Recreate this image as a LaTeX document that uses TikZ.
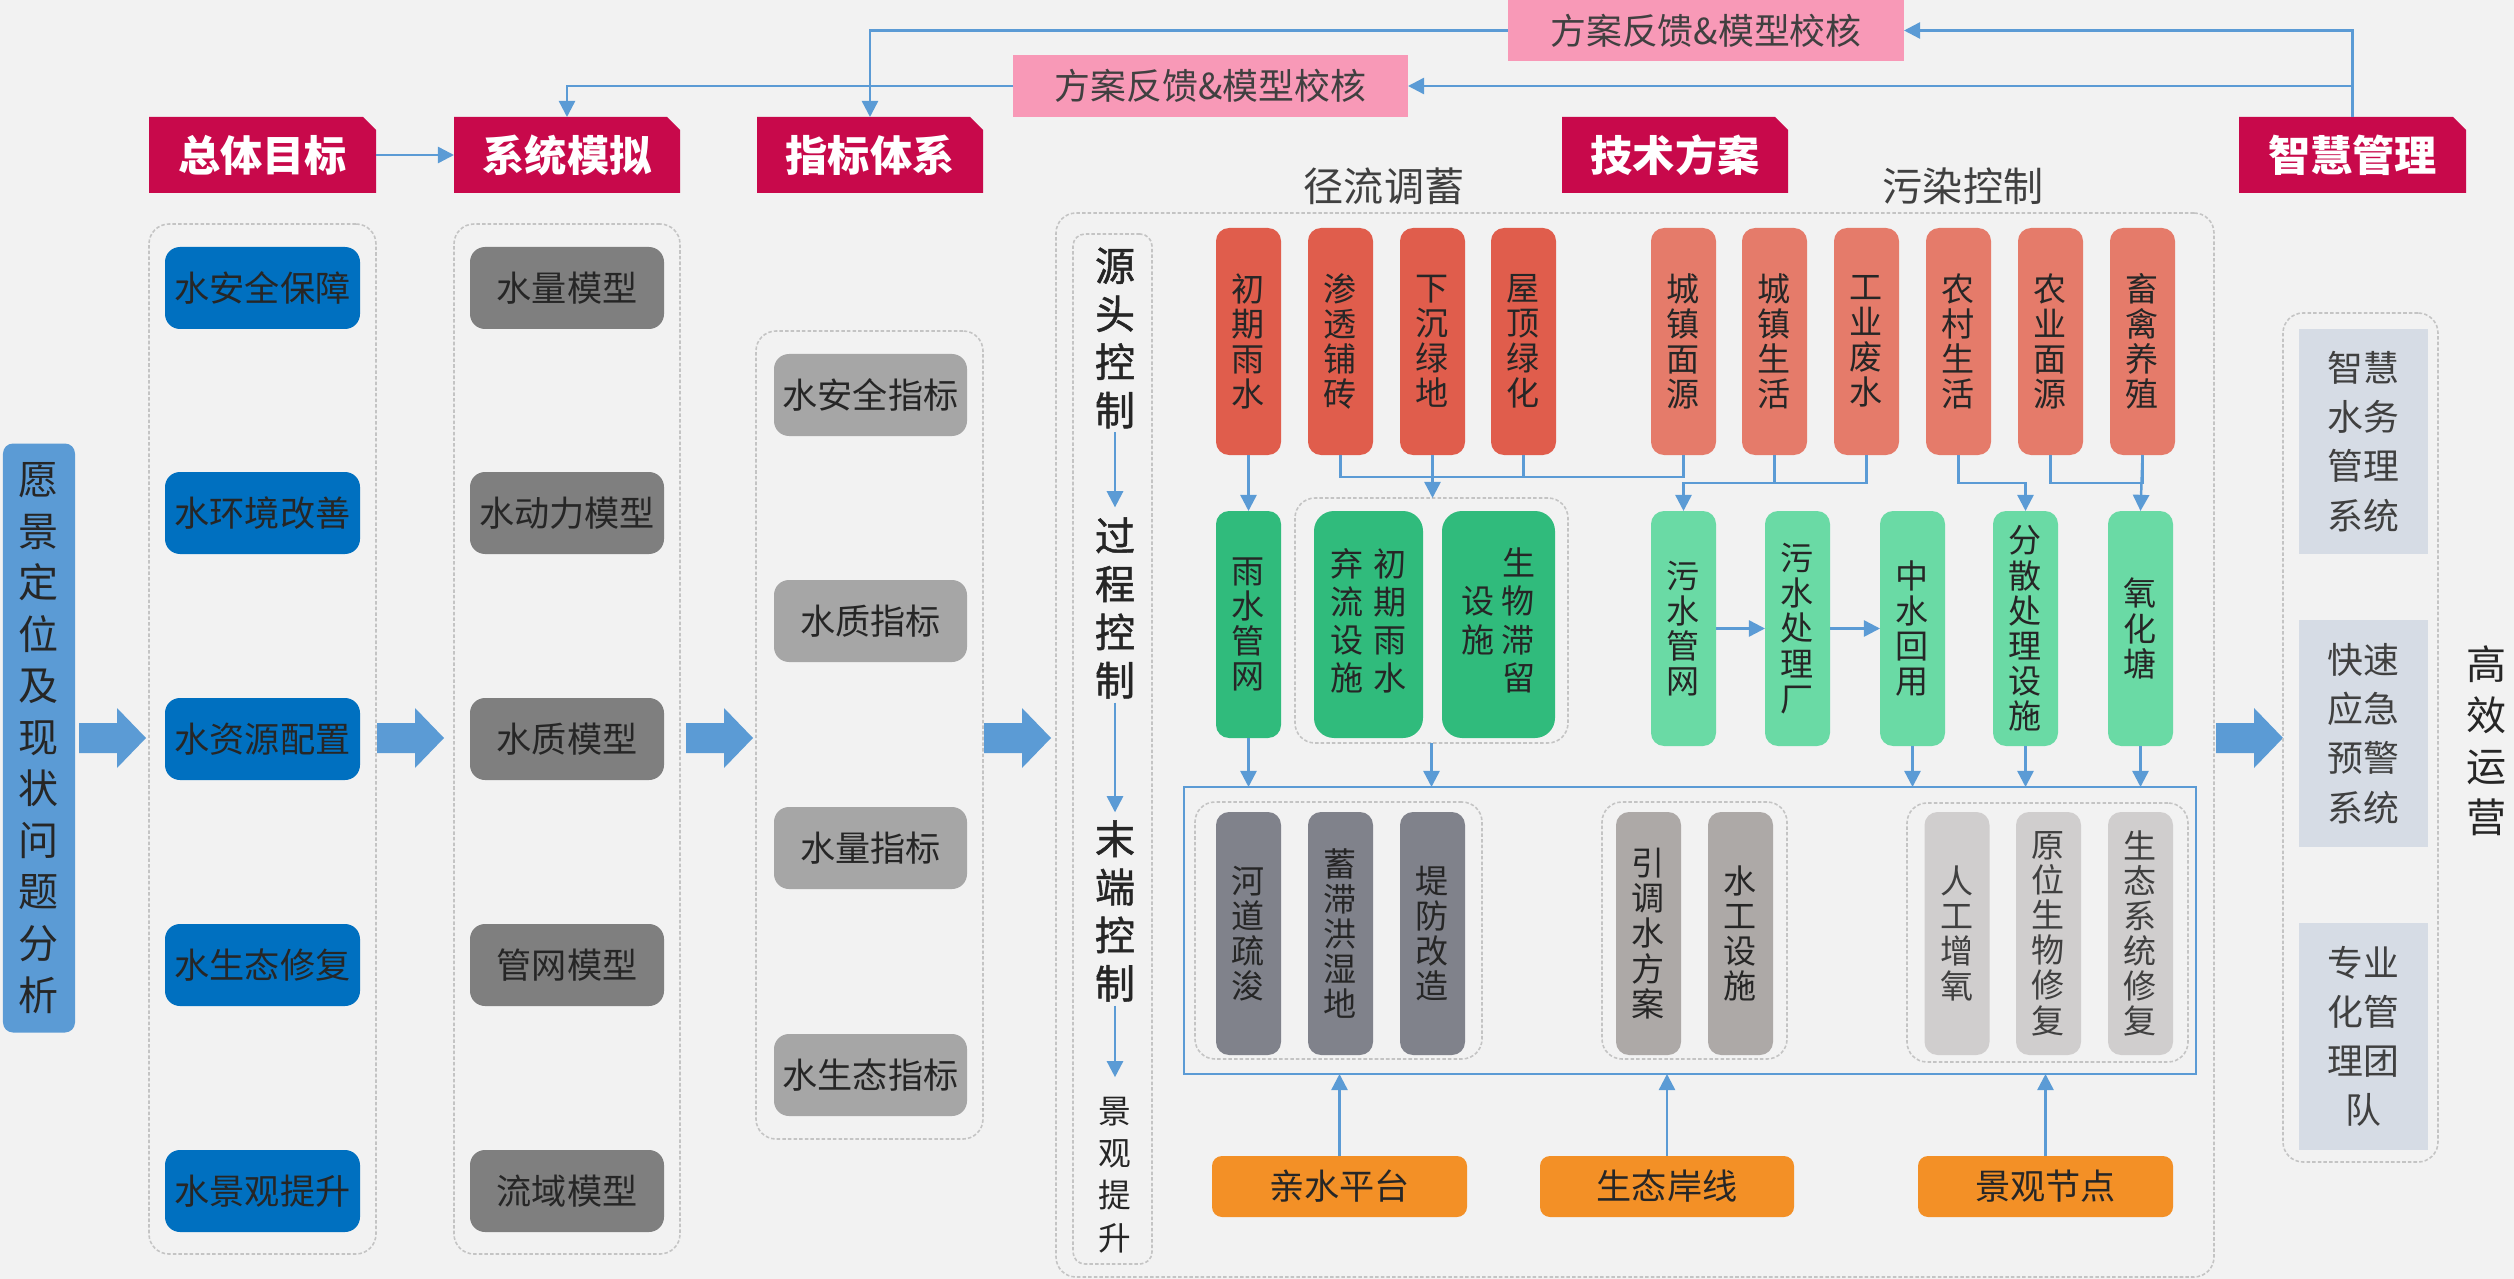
\documentclass[tikz,border=0pt]{standalone}
\usepackage{fontspec}
\setmainfont{Noto Sans CJK SC}
\newfontfamily\zzmed[FakeBold=1.2]{Noto Sans CJK SC}
\usetikzlibrary{arrows.meta}
\definecolor{bgc}{HTML}{F2F2F2}
\definecolor{crim}{HTML}{C8094B}
\definecolor{pinkfb}{HTML}{F899B7}
\definecolor{blueA}{HTML}{0070C0}
\definecolor{grayM}{HTML}{7F7F7F}
\definecolor{grayI}{HTML}{A6A6A6}
\definecolor{lblue}{HTML}{5B9BD5}
\definecolor{redA}{HTML}{E05D4C}
\definecolor{redB}{HTML}{E57B6A}
\definecolor{grnA}{HTML}{30BB7C}
\definecolor{grnB}{HTML}{6ADAA5}
\definecolor{gyA}{HTML}{80828B}
\definecolor{gyB}{HTML}{ADA9A7}
\definecolor{gyC}{HTML}{D0CECE}
\definecolor{orng}{HTML}{F39026}
\definecolor{rbox}{HTML}{D6DCE5}
\definecolor{txt}{HTML}{262626}
\definecolor{txtl}{HTML}{404040}
\definecolor{grpc}{HTML}{C4C4C4}

\newcommand\zzhdr{\fontsize{12pt}{14pt}\selectfont\bfseries}
\newcommand\zzfb{\fontsize{10.2pt}{12pt}\selectfont}
\newcommand\zzitem{\fontsize{10pt}{12pt}\selectfont}
\newcommand\zzleft{\fontsize{11.4pt}{14.65pt}\selectfont}
\newcommand\zzlab{\fontsize{11.4pt}{13pt}\selectfont}
\newcommand\zzctl{\zzmed\fontsize{11.4pt}{13.7pt}\selectfont}
\newcommand\zzjg{\fontsize{9.3pt}{12pt}\selectfont}
\newcommand\zztall{\fontsize{9.4pt}{10pt}\selectfont}
\newcommand\zzor{\fontsize{10pt}{12pt}\selectfont}
\newcommand\zzrb{\fontsize{10.2pt}{14pt}\selectfont}
\newcommand\zzgx{\fontsize{11.4pt}{14.5pt}\selectfont}

\newcommand\mkhdr[4]{%
  \fill[crim] (#2,117) -- ({#3-13},117) -- (#3,130) -- (#3,193) -- (#2,193) -- cycle;
  \node[box, text=white, font=\zzhdr, sz={#3-#2}{76}] (#1) at ({(#2+#3)/2},155) {#4};}
\newcommand\blkarr[2]{%
  \fill[lblue] (#1,#2) ++(0,-15) -- ++(38,0) -- ++(0,-15) -- ++(29,30) -- ++(-29,30) -- ++(0,-15) -- ++(-38,0) -- cycle;}

\begin{document}
\begin{tikzpicture}[x=0.01cm, y=-0.01cm,
  sz/.style 2 args={minimum width=(#1)*0.01cm, minimum height=(#2)*0.01cm},
  box/.style={inner sep=0pt, outer sep=0pt, text=txt},
  item/.style={box, rounded corners=0.15cm, font=\zzitem, sz={195}{82}},
  tall/.style={box, rounded corners=0.13cm, font=\zztall, align=center},
  grp/.style={draw=grpc, dash pattern=on 1pt off 0.6pt, line width=0.45pt, rounded corners=0.2cm, inner sep=0pt, outer sep=0pt},
  ln/.style={draw=lblue, line width=0.7pt},
  arr/.style={ln, -{Triangle[width=4.6pt,length=4.6pt]}},
  orb/.style={box, fill=orng, rounded corners=0.1cm, font=\zzor, sz={255}{61}},
  rbx/.style={box, fill=rbox, text=txtl, font=\zzrb, align=center, sz={129}{226}}
]
\useasboundingbox (0,0) rectangle (2514,1279);
\fill[bgc] (0,0) rectangle (2514,1279);

% ---------- feedback boxes ----------
\node[box, fill=pinkfb, sz={396}{61}, font=\zzfb, text=txtl] (fbA) at (1706,30.5) {方案反馈\&模型校核};
\node[box, fill=pinkfb, sz={395}{62}, font=\zzfb, text=txtl] (fbB) at (1210.5,86) {方案反馈\&模型校核};

% ---------- headers ----------
\mkhdr{ztmb}{149}{376}{总体目标}
\mkhdr{xtmn}{454}{680}{系统模拟}
\mkhdr{zbtx}{757}{983}{指标体系}
\mkhdr{jsfa}{1562}{1788}{技术方案}
\mkhdr{zhgl}{2239}{2466}{智慧管理}

\draw[arr] (ztmb.east) -- (xtmn.west);
\draw[arr] (zhgl.north) |- (fbA.east);
\draw[arr] (zhgl.north) |- (fbB.east);
\draw[arr] (fbA.west) -| (zbtx.north);
\draw[arr] (fbB.west) -| (xtmn.north);

% ---------- left box ----------
\node[box, fill=lblue, rounded corners=0.1cm, sz={72}{589}, align=center, font=\zzleft] (yjdw) at (39,738)
  {愿\\景\\定\\位\\及\\现\\状\\问\\题\\分\\析};

% ---------- column 1 ----------
\node[grp, sz={227}{1030}] (c1) at (262.5,739) {};
\node[item, fill=blueA] (a1) at (262.5,288) {水安全保障};
\node[item, fill=blueA] (a2) at (262.5,513) {水环境改善};
\node[item, fill=blueA] (a3) at (262.5,739) {水资源配置};
\node[item, fill=blueA] (a4) at (262.5,965) {水生态修复};
\node[item, fill=blueA] (a5) at (262.5,1191) {水景观提升};

% ---------- column 2 ----------
\node[grp, sz={226}{1030}] (c2) at (567,739) {};
\node[item, fill=grayM, sz={194}{82}] (m1) at (567,288) {水量模型};
\node[item, fill=grayM, sz={194}{82}] (m2) at (567,513) {水动力模型};
\node[item, fill=grayM, sz={194}{82}] (m3) at (567,739) {水质模型};
\node[item, fill=grayM, sz={194}{82}] (m4) at (567,965) {管网模型};
\node[item, fill=grayM, sz={194}{82}] (m5) at (567,1191) {流域模型};

% ---------- column 3 ----------
\node[grp, sz={227}{808}] (c3) at (869.5,735) {};
\node[item, fill=grayI, sz={193}{82}] (i1) at (870.5,395) {水安全指标};
\node[item, fill=grayI, sz={193}{82}] (i2) at (870.5,621) {水质指标};
\node[item, fill=grayI, sz={193}{82}] (i3) at (870.5,848) {水量指标};
\node[item, fill=grayI, sz={193}{82}] (i4) at (870.5,1075) {水生态指标};

% ---------- block arrows ----------
\blkarr{79}{738}
\blkarr{377}{738}
\blkarr{686}{738}
\blkarr{984}{738}
\blkarr{2216}{738}

% ---------- technical container ----------
\node[grp, sz={1158}{1064}] (tc) at (1635,745) {};
\node[box, font=\zzlab, text=txtl] (jllab) at (1384,186) {径流调蓄};
\node[box, font=\zzlab, text=txtl] (wrlab) at (1963,186) {污染控制};

% control column
\node[grp, sz={79}{1030}, rounded corners=0.12cm] (kc) at (1112.5,749) {};
\node[box, font=\zzctl, align=center] (k1) at (1115,338) {源\\头\\控\\制};
\node[box, font=\zzctl, align=center] (k2) at (1115,608) {过\\程\\控\\制};
\node[box, font=\zzctl, align=center] (k3) at (1115,911) {末\\端\\控\\制};
\node[box, font=\zzjg, align=center] (k4) at (1115,1175) {景\\观\\提\\升};
\draw[arr, shorten <=0.04cm, shorten >=0.1cm] (k1.south) -- (k2.north);
\draw[arr, shorten <=0.04cm, shorten >=0.08cm] (k2.south) -- (k3.north);
\draw[arr, shorten <=0.04cm, shorten >=0.2cm] (k3.south) -- (k4.north);

% runoff row
\node[tall, fill=redA, sz={65}{227}] (r1) at (1248.5,341.5) {初\\期\\雨\\水};
\node[tall, fill=redA, sz={65}{227}] (r2) at (1340.5,341.5) {渗\\透\\铺\\砖};
\node[tall, fill=redA, sz={65}{227}] (r3) at (1432.5,341.5) {下\\沉\\绿\\地};
\node[tall, fill=redA, sz={65}{227}] (r4) at (1523.5,341.5) {屋\\顶\\绿\\化};
% pollution row
\node[tall, fill=redB, sz={65}{227}] (p1) at (1683.5,341.5) {城\\镇\\面\\源};
\node[tall, fill=redB, sz={65}{227}] (p2) at (1774.5,341.5) {城\\镇\\生\\活};
\node[tall, fill=redB, sz={65}{227}] (p3) at (1866.5,341.5) {工\\业\\废\\水};
\node[tall, fill=redB, sz={65}{227}] (p4) at (1958.5,341.5) {农\\村\\生\\活};
\node[tall, fill=redB, sz={65}{227}] (p5) at (2050.5,341.5) {农\\业\\面\\源};
\node[tall, fill=redB, sz={65}{227}] (p6) at (2142.5,341.5) {畜\\禽\\养\\殖};

% green row
\node[tall, fill=grnA, sz={65}{227}] (g1) at (1248.5,624.5) {雨\\水\\管\\网};
\node[grp, sz={273}{245}] (gg) at (1431.5,620.5) {};
\node[tall, fill=grnA, sz={109}{227}, rounded corners=0.2cm] (g2) at (1368.5,624.5)
  {\begin{tabular}{@{}c@{\hspace{0.09cm}}c@{}}弃&初\\流&期\\设&雨\\施&水\end{tabular}};
\node[tall, fill=grnA, sz={113}{227}, rounded corners=0.2cm] (g3) at (1498.5,624.5)
  {\begin{tabular}{@{}c@{\hspace{0.07cm}}c@{}}&生\\设&物\\施&滞\\&留\end{tabular}};

\node[tall, fill=grnB, sz={65}{235}] (l1) at (1683.5,628.5) {污\\水\\管\\网};
\node[tall, fill=grnB, sz={65}{235}] (l2) at (1797.5,628.5) {污\\水\\处\\理\\厂};
\node[tall, fill=grnB, sz={65}{235}] (l3) at (1912.5,628.5) {中\\水\\回\\用};
\node[tall, fill=grnB, sz={65}{235}] (l4) at (2025.5,628.5) {分\\散\\处\\理\\设\\施};
\node[tall, fill=grnB, sz={65}{235}] (l5) at (2140.5,628.5) {氧\\化\\塘};

% connectors red -> green
\draw[arr] (r1.south) -- (g1.north);
\draw[ln] (r2.south) -- ++(0,22) -| (p1.south);
\draw[ln] (r4.south) -- ++(0,22);
\draw[arr] (r3.south) -- (r3.south |- gg.north);
\draw[ln] (p2.south) -- ++(0,28);
\draw[arr] (p3.south) -- ++(0,28) -| (l1.north);
\draw[arr] (p4.south) -- ++(0,28) -| (l4.north);
\draw[ln] (p5.south) -- ++(0,28) -| (p6.south);
\draw[arr] (p6.south) -- (l5.north);
\draw[arr] (l1.east) -- (l2.west);
\draw[arr] (l2.east) -- (l3.west);

% bottom container
\node[draw=lblue, line width=0.5pt, inner sep=0pt, outer sep=0pt, sz={1012}{287}] (bc) at (1690,930.5) {};
\node[grp, sz={287}{257}] (G1) at (1338.5,930.5) {};
\node[grp, sz={185}{257}] (G2) at (1694.5,930.5) {};
\node[grp, sz={281}{259}] (G3) at (2047.5,932.5) {};
\node[tall, fill=gyA, sz={65}{243}] (b1) at (1248.5,933.5) {河\\道\\疏\\浚};
\node[tall, fill=gyA, sz={65}{243}] (b2) at (1340.5,933.5) {蓄\\滞\\洪\\湿\\地};
\node[tall, fill=gyA, sz={65}{243}] (b3) at (1432.5,933.5) {堤\\防\\改\\造};
\node[tall, fill=gyB, sz={65}{243}] (b4) at (1648.5,933.5) {引\\调\\水\\方\\案};
\node[tall, fill=gyB, sz={65}{243}] (b5) at (1740.5,933.5) {水\\工\\设\\施};
\node[tall, fill=gyC, text=txtl, sz={65}{243}] (b6) at (1957,933.5) {人\\工\\增\\氧};
\node[tall, fill=gyC, text=txtl, sz={65}{243}] (b7) at (2048.5,933.5) {原\\位\\生\\物\\修\\复};
\node[tall, fill=gyC, text=txtl, sz={65}{243}] (b8) at (2140.5,933.5) {生\\态\\系\\统\\修\\复};

\draw[arr] (g1.south) -- (g1.south |- bc.north);
\draw[arr] (gg.south) -- (gg.south |- bc.north);
\draw[arr] (l3.south) -- (l3.south |- bc.north);
\draw[arr] (l4.south) -- (l4.south |- bc.north);
\draw[arr] (l5.south) -- (l5.south |- bc.north);

% orange
\node[orb] (o1) at (1339.5,1186.5) {亲水平台};
\node[orb, sz={254}{61}] (o2) at (1667,1186.5) {生态岸线};
\node[orb] (o3) at (2045.5,1186.5) {景观节点};
\draw[arr] (o1.north) -- (o1.north |- bc.south);
\draw[arr] (o2.north) -- (o2.north |- bc.south);
\draw[arr] (o3.north) -- (o3.north |- bc.south);

% ---------- right ----------
\node[grp, sz={155}{849}] (rc) at (2360.5,737.5) {};
\node[rbx, sz={129}{225}] (rb1) at (2363.5,441.5) {智慧\\水务\\管理\\系统};
\node[rbx, sz={129}{227}] (rb2) at (2363.5,733.5) {快速\\应急\\预警\\系统};
\node[rbx, sz={129}{227}] (rb3) at (2363.5,1036.5) {专业\\化管\\理团\\队};
\node[box, font=\zzgx, align=center] (gxyy) at (2487,741) {高\\效\\运\\营};
\end{tikzpicture}
\end{document}
